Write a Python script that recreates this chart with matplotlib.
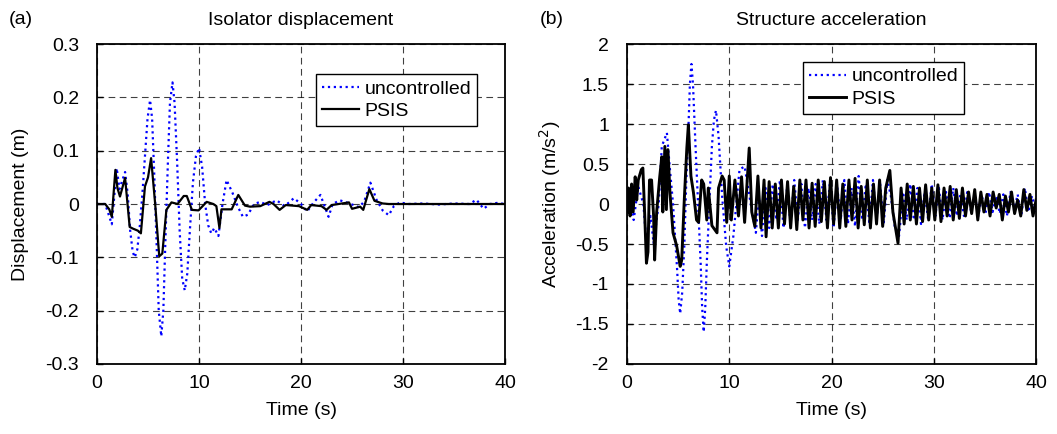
import matplotlib
matplotlib.use('Agg')
import matplotlib.pyplot as plt
from matplotlib.ticker import FuncFormatter

plt.rcParams['font.family'] = ['Liberation Sans', 'DejaVu Sans']
plt.rcParams['axes.unicode_minus'] = False

# (a) isolator displacement, uncontrolled
disp_unc_t = [0, 0.8, 1.45, 1.93, 2.2, 2.75, 3.0, 3.25, 3.5, 3.7, 3.95, 4.2, 4.45, 4.7,
              4.95, 5.2, 5.4, 5.6, 5.85, 6.05, 6.3, 6.5, 6.7, 6.95, 7.15, 7.4, 7.6, 7.85,
              8.1, 8.35, 8.6, 8.85, 9.1, 9.4, 9.7, 10.0, 10.3, 10.6, 10.9, 11.2, 11.5,
              11.9, 12.3, 12.7, 13.3, 13.8, 14.3, 14.8, 15.4, 16.0, 16.7, 17.6, 18.4,
              19.3, 20.0, 20.6, 21.2, 21.9, 22.7, 23.1, 23.8, 24.6, 25.7, 26.2, 26.8, 27.4,
              28.0, 28.6, 29.1, 29.7, 30.5, 32.0, 33.5, 35.0, 36.5, 37.2, 37.9, 38.5, 39.2,
              40.0]
disp_unc = [0, 0, -0.038, 0.067, 0.028, 0.06, 0.02, -0.05, -0.09, -0.1, -0.085, -0.04,
            0.02, 0.09, 0.16, 0.195, 0.16, 0.06, -0.08, -0.2, -0.248, -0.2, -0.07, 0.08,
            0.19, 0.228, 0.19, 0.08, -0.05, -0.14, -0.162, -0.13, -0.05, 0.04, 0.09, 0.105,
            0.07, 0.0, -0.04, -0.055, -0.045, -0.06, 0.0, 0.045, 0.02, -0.005, -0.024,
            -0.02, 0.0, 0.004, -0.002, 0.007, -0.004, 0.011, 0.0, -0.014, 0.002, 0.017,
            -0.024, 0.0, 0.007, 0.002, -0.006, 0.005, 0.04, 0.008, -0.012, -0.021, -0.004,
            0.003, 0.0, 0.001, -0.001, 0.001, 0.0, 0.008, -0.009, 0.0, 0.002, 0.0]

# (a) isolator displacement, PSIS
disp_psis_t = [0, 0.8, 1.2, 1.45, 1.8, 2.0, 2.25, 2.75, 3.2, 3.5, 4.0, 4.3, 4.7, 5.0, 5.3,
               5.7, 6.1, 6.4, 6.8, 7.3, 7.9, 8.5, 8.8, 9.3, 9.95, 10.75, 11.4, 11.7, 12.0,
               12.2, 13.2, 13.85, 14.5, 15.0, 16.0, 16.9, 17.3, 17.9, 18.5, 19.8, 20.6,
               21.0, 22.0, 22.5, 23.0, 24.7, 25.0, 25.8, 26.1, 26.7, 27.2, 28.0, 28.6, 40.0]
disp_psis = [0, 0, -0.01, -0.024, 0.064, 0.03, 0.014, 0.049, -0.043, -0.046, -0.05, -0.055,
             0.033, 0.05, 0.086, 0.0, -0.098, -0.093, -0.011, 0.003, 0.0, 0.015, 0.015,
             -0.011, -0.012, 0.004, 0.0, -0.004, -0.045, -0.01, -0.01, 0.017, -0.003,
             -0.005, -0.004, 0.004, 0.0, -0.011, -0.002, -0.004, -0.011, -0.002, -0.004,
             -0.011, -0.002, 0.003, -0.009, -0.005, -0.011, 0.028, 0.006, 0.001, 0.0, 0.0]

# (b) structure acceleration, uncontrolled
acc_unc_t = [0, 0.3, 0.65, 1.1, 1.6, 1.9, 2.3, 2.6, 3.1, 3.4, 3.9, 4.2, 4.5, 4.9, 5.05, 5.2,
             5.4, 5.6, 5.8, 6.0, 6.15, 6.3, 6.45, 6.7, 6.95, 7.2, 7.35, 7.5, 7.65, 7.8, 8.05,
             8.3, 8.5, 8.7, 8.95, 9.3, 9.7, 10.0, 10.4, 11.0, 11.5,
             12.1, 12.6, 12.9, 13.2, 13.55, 13.9, 14.25, 14.6, 14.95, 15.3, 15.65, 16.0,
             16.35, 16.7, 17.05, 17.4, 17.75, 18.1, 18.45, 18.8, 19.15, 19.5, 19.85, 20.2,
             20.55, 20.9, 21.25, 21.6, 21.95, 22.3, 22.65, 23.0, 23.35, 23.7, 24.05, 24.4,
             24.75, 25.1, 25.45, 25.8, 26.2, 26.6, 27.0, 27.35, 27.7, 28.05, 28.4, 28.75,
             29.1, 29.45, 29.8, 30.15, 30.5, 30.85, 31.2, 31.55, 31.9, 32.25, 32.6, 32.95,
             33.3, 33.65, 34.0, 34.35, 34.7, 35.05, 35.4, 35.75, 36.1, 36.45, 36.8, 37.15,
             37.5, 37.85, 38.2, 38.55, 38.9, 39.25, 39.6, 40.0]
acc_unc = [0.1, 0.17, -0.2, 0.22, 0.0, -0.49, -0.15, -0.49, 0.0, 0.72, 0.89, 0.43, 0.0,
           -0.82, -1.2, -1.37, -1.1, -0.53, 0.3, 0.93, 1.5, 1.75, 1.5, 0.72, 0.0, -0.74,
           -1.3, -1.6, -1.3, -0.74, 0.0, 0.72, 1.05, 1.17, 0.85, 0.1,
           -0.53, -0.78, -0.4, 0.43, 0.47, 0.0, -0.36, 0.1, -0.4, 0.2, -0.3, 0.25, -0.2,
           0.3, -0.3, 0.2, -0.25, 0.3, -0.2, 0.25, -0.3, 0.2, -0.2, 0.25, -0.25, 0.3, -0.2,
           0.28, -0.3, 0.22, -0.2, 0.3, -0.25, 0.2, -0.28, 0.35, -0.2, 0.25, -0.25, 0.3,
           -0.2, 0.25, -0.25, 0.3, 0.1, -0.3, -0.4, 0.15, -0.2, 0.25, -0.2, 0.2, -0.25,
           0.15, -0.2, 0.25, -0.15, 0.2, -0.2, 0.15, -0.18, 0.2, -0.15, 0.12, -0.15, 0.18,
           -0.1, 0.12, -0.15, 0.1, -0.12, 0.15, -0.1, 0.1, -0.12, 0.12, -0.15, 0.15, -0.08,
           0.12, -0.15, 0.2, -0.1, 0.1, -0.1]

# (b) structure acceleration, PSIS
acc_psis_t = [0.0, 0.15, 0.3, 0.45, 0.6, 0.8, 0.95, 1.1, 1.4, 1.55, 1.75, 1.9, 2.05, 2.2,
              2.4, 2.6, 2.7, 2.9, 3.2, 3.4, 3.5, 3.7, 3.85, 4.0, 4.2, 4.35, 4.5, 4.85, 5.2,
              5.35, 5.6, 5.85, 6.0, 6.25, 6.5, 6.8, 7.0, 7.3, 7.5, 7.8, 7.95, 8.3, 8.8, 8.95,
              9.3, 9.5, 9.75, 10.0, 10.2, 10.55, 10.9, 11.2, 11.5, 11.95, 12.2, 12.5, 12.8,
              13.1, 13.4, 13.6, 13.9, 14.2, 14.5, 14.8, 15.1, 15.4, 15.7, 16.0, 16.3, 16.6,
              16.9, 17.2, 17.5, 17.8, 18.1, 18.4, 18.7, 19.0, 19.3, 19.6, 19.9, 20.2, 20.5,
              20.8, 21.1, 21.4, 21.7, 22.0, 22.3, 22.6, 22.9, 23.2, 23.5, 23.8, 24.1, 24.4,
              24.7, 25.0, 25.3, 25.7, 26.0, 26.5, 26.8, 27.1, 27.4, 27.7, 28.0, 28.3, 28.6,
              28.9, 29.2, 29.5, 29.8, 30.1, 30.4, 30.7, 31.0, 31.3, 31.6, 31.9, 32.2, 32.5,
              32.8, 33.1, 33.4, 33.7, 34.0, 34.3, 34.6, 34.9, 35.2, 35.5, 35.8, 36.1, 36.4,
              36.7, 37.0, 37.3, 37.6, 37.9, 38.2, 38.5, 38.8, 39.1, 39.4, 39.7, 40.0]
acc_psis = [-0.1, 0.2, -0.15, 0.25, -0.1, 0.34, 0.05, 0.3, 0.43, 0.45, -0.2, -0.74, -0.6,
            0.3, 0.3, -0.15, -0.7, -0.1, 0.34, 0.59, -0.1, 0.72, -0.07, 0.68, 0.14, -0.11,
            -0.36, -0.52, -0.78, -0.7, 0.05, 0.7, 0.99, 0.35, 0.14, -0.2, -0.23, 0.3, 0.25,
            -0.2, 0.2, -0.27, -0.36, 0.2, 0.35, 0.3, -0.23, 0.35, -0.2, 0.3, -0.15, 0.34,
            -0.23, 0.7, -0.1, -0.28, 0.35, -0.3, 0.3, -0.41, 0.28, -0.3, 0.25, -0.3, 0.3,
            -0.25, 0.28, -0.3, 0.22, -0.32, 0.3, -0.2, 0.3, -0.3, 0.26, -0.28, 0.3, -0.22,
            0.28, -0.3, 0.33, -0.25, 0.3, -0.3, 0.25, -0.28, 0.3, -0.2, 0.32, -0.3, 0.22,
            -0.26, 0.3, -0.3, 0.25, -0.25, 0.3, -0.28, 0.2, 0.42, -0.1, -0.49, 0.2, -0.25,
            0.25, -0.2, 0.22, -0.25, 0.2, -0.22, 0.24, -0.2, 0.2, -0.2, 0.24, -0.22, 0.2,
            -0.15, 0.22, -0.2, 0.18, -0.18, 0.2, -0.15, 0.15, -0.12, 0.18, -0.2, 0.15, -0.1,
            0.12, -0.15, 0.15, -0.05, 0.12, -0.2, 0.1, -0.1, 0.15, -0.12, 0.05, -0.15, 0.18,
            -0.08, 0.12, -0.15, 0.05]

fs = 14
fig = plt.figure(figsize=(10.57, 4.34), dpi=100)
ax1 = fig.add_axes([0.0918, 0.1613, 0.386, 0.7373])
ax2 = fig.add_axes([0.5932, 0.1613, 0.387, 0.7373])

fmt = FuncFormatter(lambda v, p: '%g' % round(v, 3))

panels = [
    (ax1, disp_unc_t, disp_unc, disp_psis_t, disp_psis, -0.3, 0.3, 0.1, 1.6,
     'Isolator displacement', 'Displacement (m)', '(a)', (0.537, 0.906), 12),
    (ax2, acc_unc_t, acc_unc, acc_psis_t, acc_psis, -2, 2, 0.5, 2.1,
     'Structure acceleration', 'Acceleration (m/s$^2$)', '(b)', (0.43, 0.944), 9),
]

for ax, tu, yu, tp, yp, lo, hi, step, lw, title, ylab, tag, anchor, lpad in panels:
    ax.plot(tu, yu, color='#0000ff', linestyle=':', linewidth=1.6, label='uncontrolled')
    ax.plot(tp, yp, color='black', linestyle='-', linewidth=lw, label='PSIS')
    ax.set_xlim(0, 40)
    ax.set_ylim(lo, hi)
    ax.set_xticks([0, 10, 20, 30, 40])
    n = int(round((hi - lo) / step))
    ax.set_yticks([lo + i * step for i in range(n + 1)])
    ax.yaxis.set_major_formatter(fmt)
    ax.grid(True, color='black', linestyle=(0, (6, 4)), linewidth=0.8, alpha=0.75)
    ax.tick_params(direction='in', labelsize=fs, length=4, width=1,
                   top=False, right=False)
    ax.tick_params(axis='y', pad=13)
    ax.tick_params(axis='x', pad=8)
    for s in ax.spines.values():
        s.set_linewidth(1.3)
    ax.set_title(title, fontsize=fs, pad=14)
    ax.set_xlabel('Time (s)', fontsize=fs, labelpad=7)
    ax.set_ylabel(ylab, fontsize=fs, labelpad=lpad)
    leg = ax.legend(loc='upper left', bbox_to_anchor=anchor, borderaxespad=0,
                    fontsize=fs, fancybox=False, framealpha=1, edgecolor='black',
                    handlelength=1.9, handletextpad=0.3, borderpad=0.3,
                    labelspacing=0.25)
    leg.get_frame().set_linewidth(1.0)

fig.text(0.008, 0.955, '(a)', fontsize=fs, ha='left', va='center')
fig.text(0.511, 0.955, '(b)', fontsize=fs, ha='left', va='center')

fig.savefig('out.png', dpi=100)
